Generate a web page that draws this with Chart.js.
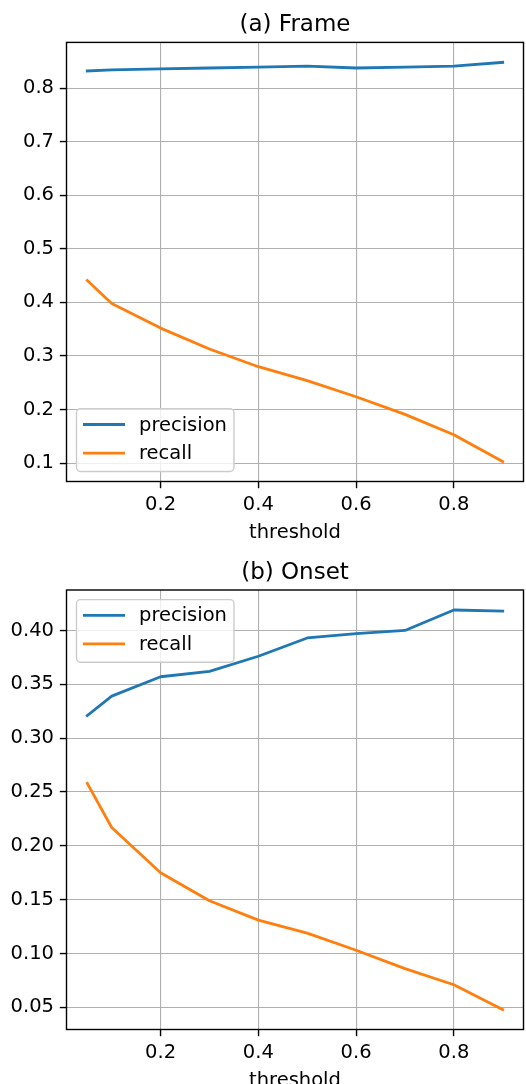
<html lang="en">
<head>
  <meta charset="utf-8">
  <script src="https://cdn.jsdelivr.net/npm/chart.js"></script>
  <style>
    body { margin: 0; background: #fff; overflow: hidden; }
    canvas { position: absolute; left: 0; }
  </style>
</head>
<body>
  <canvas id="frameChart" width="526" height="545" style="top:0px"></canvas>
  <canvas id="onsetChart" width="526" height="560" style="top:545px"></canvas>

  <script>
    // data
    const thresholds = [0.05, 0.1, 0.2, 0.3, 0.4, 0.5, 0.6, 0.7, 0.8, 0.9];
    const framePrecision = [0.832, 0.834, 0.836, 0.8375, 0.839, 0.841, 0.8375, 0.839, 0.841, 0.848];
    const frameRecall = [0.441, 0.398, 0.352, 0.313, 0.280, 0.254, 0.224, 0.191, 0.153, 0.103];
    const onsetPrecision = [0.321, 0.339, 0.357, 0.362, 0.376, 0.393, 0.397, 0.400, 0.419, 0.418];
    const onsetRecall = [0.258, 0.217, 0.175, 0.149, 0.131, 0.119, 0.103, 0.086, 0.071, 0.048];

    const xTicks = [0.2, 0.4, 0.6, 0.8];
    const frameYTicks = [0.1, 0.2, 0.3, 0.4, 0.5, 0.6, 0.7, 0.8];
    const onsetYTicks = [0.05, 0.10, 0.15, 0.20, 0.25, 0.30, 0.35, 0.40];

    const FONT = 'DejaVu Sans';
    const TICK_SIZE = 19.5;
    Chart.defaults.font.family = FONT;
    Chart.defaults.color = '#000';

    // matplotlib-like 5% margins
    function pad(lo, hi) {
      const m = (hi - lo) * 0.05;
      return [lo - m, hi + m];
    }

    // full box around the axes
    const spines = {
      id: 'spines',
      afterDatasetsDraw(chart) {
        const {ctx, chartArea: a} = chart;
        ctx.save();
        ctx.strokeStyle = '#000';
        ctx.lineWidth = 1.4;
        ctx.strokeRect(a.left, a.top, a.right - a.left, a.bottom - a.top);
        ctx.restore();
      }
    };

    // title centred over the axes box
    const panelTitle = {
      id: 'panelTitle',
      afterDraw(chart, args, opts) {
        const {ctx, chartArea: a} = chart;
        ctx.save();
        ctx.font = '23px "' + FONT + '"';
        ctx.fillStyle = '#000';
        ctx.textAlign = 'center';
        ctx.textBaseline = 'alphabetic';
        ctx.fillText(opts.text, (a.left + a.right) / 2, a.top - 11.5);
        ctx.restore();
      }
    };

    // legend box in matplotlib style
    const mplLegend = {
      id: 'mplLegend',
      afterDraw(chart, args, opts) {
        const {ctx, chartArea: a} = chart;
        const sets = chart.data.datasets;
        ctx.save();
        ctx.font = TICK_SIZE + 'px "' + FONT + '"';
        const textW = Math.max(...sets.map(d => ctx.measureText(d.label).width));
        const w = 62.5 + textW + 7;
        const h = 62.7;
        const x = a.left + 10;
        const y = opts.corner === 'lower' ? a.bottom - 10 - h : a.top + 9.6;
        ctx.beginPath();
        ctx.roundRect(x, y, w, h, 4);
        ctx.fillStyle = 'rgba(255,255,255,0.8)';
        ctx.fill();
        ctx.strokeStyle = '#cccccc';
        ctx.lineWidth = 1.4;
        ctx.stroke();
        sets.forEach((d, i) => {
          const ry = y + 15.7 + i * 28.6;
          ctx.beginPath();
          ctx.moveTo(x + 6.5, ry);
          ctx.lineTo(x + 48.5, ry);
          ctx.strokeStyle = d.borderColor;
          ctx.lineWidth = 2.8;
          ctx.stroke();
          ctx.fillStyle = '#000';
          ctx.textAlign = 'left';
          ctx.textBaseline = 'middle';
          ctx.fillText(d.label, x + 62.5, ry + 1);
        });
        ctx.restore();
      }
    };

    function makeChart(id, title, prec, rec, yTicks, decimals, legendCorner, xAxisHeight, titlePad, topPad) {
      const [ymin, ymax] = pad(Math.min(...prec, ...rec), Math.max(...prec, ...rec));
      const [xmin, xmax] = pad(thresholds[0], thresholds[thresholds.length - 1]);
      const line = {
        borderWidth: 2.8,
        pointRadius: 0,
        tension: 0,
        fill: false,
        borderCapStyle: 'square',
        borderJoinStyle: 'round'
      };
      const grid = { color: '#b0b0b0', lineWidth: 1.1, tickColor: '#000', tickLength: 6.7, tickWidth: 1.4 };
      return new Chart(document.getElementById(id), {
        type: 'line',
        data: {
          datasets: [
            Object.assign({label: 'precision', borderColor: '#1f77b4',
              data: thresholds.map((t, i) => ({x: t, y: prec[i]}))}, line),
            Object.assign({label: 'recall', borderColor: '#ff7f0e',
              data: thresholds.map((t, i) => ({x: t, y: rec[i]}))}, line)
          ]
        },
        options: {
          responsive: false,
          animation: false,
          layout: { padding: { left: 0, right: 2.5, top: topPad, bottom: 0 } },
          plugins: {
            legend: { display: false },
            tooltip: { enabled: false },
            panelTitle: { text: title },
            mplLegend: { corner: legendCorner }
          },
          scales: {
            x: {
              type: 'linear',
              min: xmin,
              max: xmax,
              afterBuildTicks: s => { s.ticks = xTicks.map(v => ({value: v})); },
              afterFit: s => { s.height = xAxisHeight; },
              grid: grid,
              border: { display: false },
              ticks: { font: { size: TICK_SIZE }, padding: 5, maxRotation: 0,
                callback: v => v.toFixed(1) },
              title: { display: true, text: 'threshold', font: { size: TICK_SIZE },
                padding: { top: 0, bottom: titlePad } }
            },
            y: {
              type: 'linear',
              min: ymin,
              max: ymax,
              afterBuildTicks: s => { s.ticks = yTicks.map(v => ({value: v})); },
              afterFit: s => { s.width = 66.5; },
              grid: grid,
              border: { display: false },
              ticks: { font: { size: TICK_SIZE }, padding: 5.8,
                callback: v => v.toFixed(decimals) }
            }
          }
        },
        plugins: [spines, panelTitle, mplLegend]
      });
    }

    makeChart('frameChart', '(a) Frame', framePrecision, frameRecall, frameYTicks, 1, 'lower', 63.5, 0.7, 42.4);
    makeChart('onsetChart', '(b) Onset', onsetPrecision, onsetRecall, onsetYTicks, 2, 'upper', 75.5, 12.7, 45);
  </script>
</body>
</html>
